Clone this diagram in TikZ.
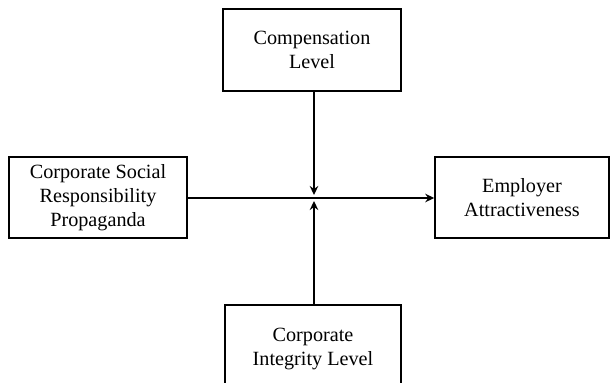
\documentclass[tikz,border=0pt]{standalone}
\usepackage{fontspec}
\setmainfont{Liberation Serif}
\usetikzlibrary{arrows.meta}
\begin{document}
\begin{tikzpicture}[x=1pt,y=-1pt,
  box/.style={draw=black,line width=1.5pt,fill=white,align=center,inner sep=0pt,
    font=\fontsize{20.2}{24}\selectfont},
  conn/.style={line width=1.4pt,-{Stealth[length=9pt,width=8.5pt]}}]
\useasboundingbox (0,0) rectangle (611,383);
\clip (0,0) rectangle (611,383);
\node[box,minimum width=178pt,minimum height=81pt] (csr) at (98,197.5) {Corporate Social\\Responsibility\\Propaganda};
\node[box,minimum width=174pt,minimum height=81pt] (ea) at (522,197.5) {Employer\\Attractiveness};
\node[box,minimum width=178pt,minimum height=82pt] (comp) at (312,50) {Compensation\\Level};
\node[box,minimum width=176pt,minimum height=88pt] (cil) at (313,349) {Corporate\\Integrity Level};
\coordinate (jt) at (314,195);
\coordinate (jb) at (314,201);
\draw[conn] (csr.east |- 0,198) -- (ea.west |- 0,198);
\draw[conn] (comp.south -| jt) -- (jt);
\draw[conn] (cil.north -| jb) -- (jb);
\end{tikzpicture}
\end{document}
